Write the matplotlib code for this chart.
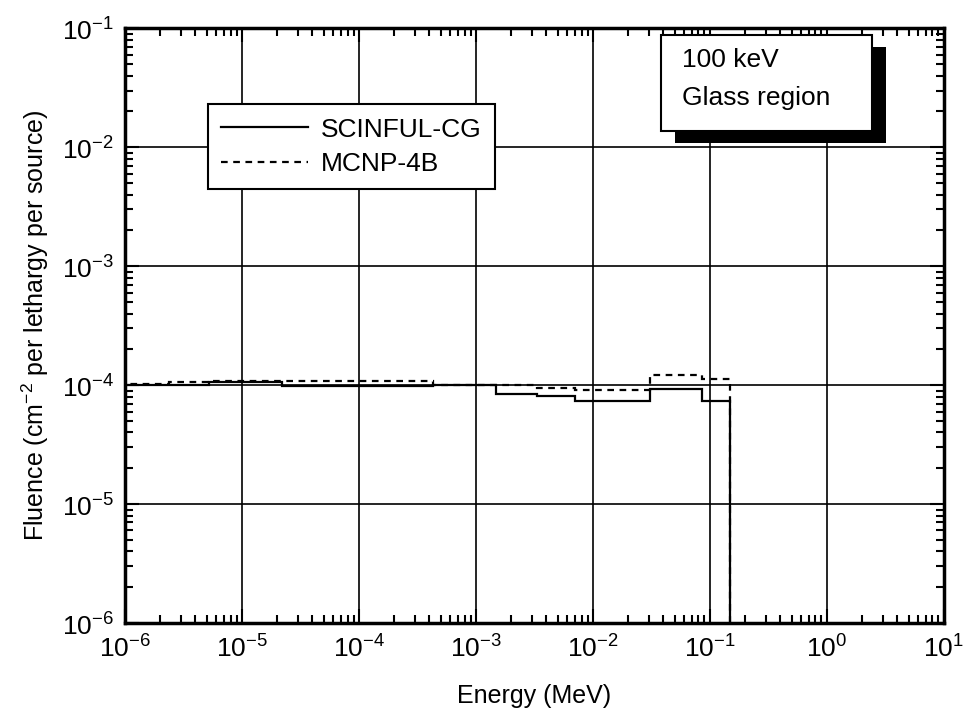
import numpy as np
import matplotlib.pyplot as plt
import matplotlib.patches as mpatches
import matplotlib.ticker as mticker

plt.rcParams['font.family'] = ['Liberation Sans', 'DejaVu Sans']
plt.rcParams['mathtext.fontset'] = 'custom'
plt.rcParams['mathtext.rm'] = 'Liberation Sans'
plt.rcParams['axes.unicode_minus'] = False

# ================= Data: group-wise fluence per lethargy =================
edges = [1e-6, 2.4e-6, 5.2e-6, 2.2e-5, 4.3e-4, 1.5e-3, 3.3e-3, 7.0e-3, 3.1e-2, 8.5e-2, 1.5e-1]
scinful_cg = [1.00e-4, 1.00e-4, 1.06e-4, 0.99e-4, 1.00e-4, 0.85e-4, 0.81e-4, 0.73e-4, 0.92e-4, 0.73e-4]
mcnp_4b = [1.03e-4, 1.06e-4, 1.09e-4, 1.08e-4, 1.00e-4, 1.00e-4, 0.95e-4, 0.91e-4, 1.21e-4, 1.13e-4]

x_ticks = [1e-6, 1e-5, 1e-4, 1e-3, 1e-2, 1e-1, 1e0, 1e1]
y_ticks = [1e-6, 1e-5, 1e-4, 1e-3, 1e-2, 1e-1]

# ================= Figure =================
fig = plt.figure(figsize=(9.65, 7.23), dpi=100)
ax = fig.add_axes([0.1295, 0.1383, 0.8485, 0.8225])

ax.set_xscale('log')
ax.set_yscale('log')
ax.set_xlim(1e-6, 1e1)
ax.set_ylim(1e-6, 1e-1)

ax.stairs(scinful_cg, edges, baseline=1e-6, color='black', linewidth=1.6,
          label='SCINFUL-CG', zorder=3)
ax.stairs(mcnp_4b, edges, baseline=1e-6, color='black', linewidth=1.6,
          linestyle=(0, (3, 2.5)), label='MCNP-4B', zorder=3)

# grid on decades only
ax.xaxis.set_major_locator(mticker.FixedLocator(x_ticks))
ax.yaxis.set_major_locator(mticker.FixedLocator(y_ticks))
ax.xaxis.set_minor_locator(mticker.LogLocator(base=10, subs=np.arange(2, 10), numticks=100))
ax.yaxis.set_minor_locator(mticker.LogLocator(base=10, subs=np.arange(2, 10), numticks=100))
ax.xaxis.set_minor_formatter(mticker.NullFormatter())
ax.yaxis.set_minor_formatter(mticker.NullFormatter())
ax.xaxis.set_major_formatter(mticker.FuncFormatter(lambda v, p: '$10^{%d}$' % round(np.log10(v))))
ax.yaxis.set_major_formatter(mticker.FuncFormatter(lambda v, p: '$10^{%d}$' % round(np.log10(v))))
ax.grid(True, which='major', color='black', linewidth=1.2)

ax.tick_params(which='both', direction='in', top=True, right=True, labelsize=19)
ax.tick_params(which='major', length=10, width=1.5, pad=8)
ax.tick_params(which='minor', length=6, width=1.5)
for sp in ax.spines.values():
    sp.set_linewidth(2.5)

ax.set_xlabel('Energy (MeV)', fontsize=18, labelpad=16)
ax.set_ylabel('Fluence (cm$^{-2}$ per lethargy per source)', fontsize=18, labelpad=8)

leg = ax.legend(loc='upper left', bbox_to_anchor=(0.101, 0.872), fontsize=19,
                frameon=True, fancybox=False, edgecolor='black', framealpha=1,
                handlelength=3.3, handletextpad=0.5, borderpad=0.5,
                labelspacing=0.4, borderaxespad=0)
leg.get_frame().set_linewidth(1.5)
leg.set_zorder(5)

# annotation box with a drop shadow
shadow = mpatches.Rectangle((0.6995, 0.8025), 0.2185, 0.1325, transform=fig.transFigure,
                            facecolor='black', edgecolor='none', zorder=4)
box = mpatches.Rectangle((0.685, 0.8195), 0.2185, 0.132, transform=fig.transFigure,
                         facecolor='white', edgecolor='black', linewidth=1.5, zorder=5)
fig.patches.extend([shadow, box])
fig.text(0.707, 0.917, '100 keV', fontsize=19, va='center', ha='left', zorder=6)
fig.text(0.707, 0.864, 'Glass region', fontsize=19, va='center', ha='left', zorder=6)

fig.savefig('out.png', dpi=100)
